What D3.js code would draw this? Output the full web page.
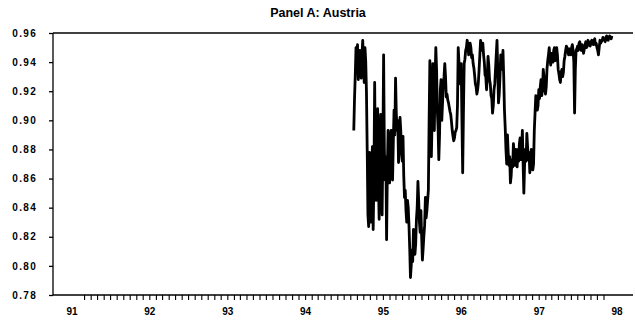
<!DOCTYPE html>
<html>
<head>
<meta charset="utf-8">
<script src="https://cdn.jsdelivr.net/npm/d3@7"></script>
<style>
  html, body { margin: 0; padding: 0; background: #fff; }
  svg { display: block; }
</style>
</head>
<body>
<svg id="chart" width="635" height="320"></svg>
<script>
const title = "Panel A: Austria";
const startDate = new Date(1994, 7, 15);   // first observation
const stepDays = 3.5;                      // twice a week
const values = [
  0.893,0.915, 0.931,0.950, 0.943,0.952, 0.928,0.935, 0.948,0.940,
  0.929,0.945, 0.955,0.940, 0.926,0.950, 0.941,0.920, 0.880,0.835,
  0.827,0.878, 0.874,0.830, 0.869,0.882, 0.825,0.860, 0.926,0.870,
  0.845,0.880, 0.908,0.860, 0.832,0.875, 0.904,0.870, 0.835,0.880,
  0.945,0.880, 0.859,0.875, 0.818,0.865, 0.893,0.885, 0.857,0.868,
  0.893,0.875, 0.859,0.885, 0.907,0.890, 0.929,0.905, 0.893,0.900,
  0.871,0.880, 0.902,0.893, 0.880,0.872, 0.889,0.862, 0.847,0.852,
  0.838,0.830, 0.845,0.840, 0.828,0.812, 0.792,0.800, 0.811,0.803,
  0.825,0.818, 0.808,0.815, 0.832,0.840, 0.858,0.845, 0.830,0.823,
  0.838,0.820, 0.804,0.812, 0.821,0.828, 0.847,0.833, 0.838,0.845,
  0.852,0.900, 0.941,0.915, 0.875,0.900, 0.939,0.925, 0.893,0.930,
  0.950,0.935, 0.907,0.895, 0.873,0.890, 0.921,0.928, 0.900,0.912,
  0.924,0.930, 0.939,0.930, 0.916,0.918, 0.914,0.912, 0.909,0.906,
  0.904,0.899, 0.893,0.889, 0.886,0.888, 0.892,0.893, 0.895,0.910,
  0.950,0.940, 0.928,0.925, 0.939,0.900, 0.864,0.905, 0.939,0.942,
  0.948,0.950, 0.955,0.952, 0.945,0.948, 0.953,0.950, 0.943,0.945,
  0.939,0.936, 0.931,0.925, 0.923,0.918, 0.921,0.926, 0.935,0.945,
  0.955,0.948, 0.950,0.953, 0.945,0.940, 0.931,0.930, 0.921,0.930,
  0.944,0.938, 0.928,0.925, 0.917,0.915, 0.905,0.910, 0.921,0.925,
  0.935,0.945, 0.955,0.935, 0.912,0.918, 0.930,0.945, 0.938,0.935,
  0.948,0.930, 0.907,0.895, 0.880,0.870, 0.890,0.878, 0.869,0.875,
  0.857,0.862, 0.873,0.868, 0.884,0.878, 0.869,0.880, 0.875,0.868,
  0.880,0.872, 0.884,0.888, 0.873,0.878, 0.893,0.870, 0.850,0.870,
  0.880,0.872, 0.891,0.882, 0.873,0.878, 0.864,0.870, 0.880,0.875,
  0.866,0.870, 0.893,0.905, 0.917,0.912, 0.907,0.910, 0.921,0.915,
  0.923,0.928, 0.917,0.922, 0.935,0.930, 0.921,0.918, 0.923,0.935,
  0.941,0.945, 0.950,0.942, 0.938,0.946, 0.944,0.940, 0.948,0.950,
  0.941,0.944, 0.950,0.945, 0.935,0.932, 0.928,0.926, 0.933,0.935,
  0.930,0.933, 0.941,0.944, 0.948,0.951, 0.950,0.947, 0.945,0.949,
  0.946,0.945, 0.950,0.952, 0.948,0.940, 0.905,0.935, 0.948,0.949,
  0.951,0.948, 0.953,0.954, 0.950,0.948, 0.952,0.950, 0.946,0.949,
  0.952,0.954, 0.950,0.951, 0.955,0.953, 0.952,0.951, 0.954,0.955,
  0.953,0.952, 0.955,0.956, 0.952,0.953, 0.950,0.948, 0.945,0.950,
  0.955,0.953, 0.954,0.955, 0.957,0.956, 0.955,0.954, 0.957,0.958,
  0.956,0.955, 0.957,0.958, 0.957,0.956, 0.958
];
const yTicks = [0.78, 0.80, 0.82, 0.84, 0.86, 0.88, 0.90, 0.92, 0.94, 0.96];
const xYears = [1991, 1992, 1993, 1994, 1995, 1996, 1997, 1998];
const xLabels = ["91", "92", "93", "94", "95", "96", "97", "98"];

// ---- layout ----
const svg = d3.select("#chart");
const plotLeft = 53, plotRight = 633, plotTop = 33, plotBottom = 295;

const x = d3.scaleTime()
  .domain([new Date(1991, 0, 1), new Date(1998, 0, 1)])
  .range([72, 617]);
const y = d3.scaleLinear().domain([0.78, 0.96]).range([plotBottom, plotTop]);

const data = values.map((v, i) => ({
  date: new Date(startDate.getTime() + i * stepDays * 864e5),
  value: v
}));

// title
svg.append("text")
  .attr("x", 318).attr("y", 17)
  .attr("text-anchor", "middle")
  .attr("font-family", "Liberation Sans, Arial, sans-serif")
  .attr("font-weight", "bold")
  .attr("font-size", 12.5)
  .text(title);

// frame lines: top, left, bottom
svg.append("line").attr("x1", plotLeft).attr("x2", plotRight).attr("y1", plotTop).attr("y2", plotTop)
  .attr("stroke", "#000").attr("stroke-width", 1.5);
svg.append("line").attr("x1", plotLeft).attr("x2", plotLeft).attr("y1", plotTop).attr("y2", plotBottom)
  .attr("stroke", "#000").attr("stroke-width", 1.3);
svg.append("line").attr("x1", plotLeft).attr("x2", plotRight).attr("y1", plotBottom).attr("y2", plotBottom)
  .attr("stroke", "#000").attr("stroke-width", 1.5);

// y axis
const yAxis = d3.axisLeft(y).tickValues(yTicks).tickFormat(d3.format(".2f")).tickSize(4).tickPadding(12);
const gy = svg.append("g").attr("transform", `translate(${plotLeft},0)`).call(yAxis);
gy.select(".domain").remove();
gy.selectAll(".tick line").attr("stroke", "#000").attr("stroke-width", 1.3);
gy.selectAll(".tick text")
  .attr("font-family", "Liberation Sans, Arial, sans-serif")
  .attr("font-weight", "bold")
  .attr("font-size", 10)
  .attr("letter-spacing", "1.3px")
  .attr("fill", "#000");

// x axis: monthly minor ticks
const months = d3.timeMonth.range(new Date(1991, 2, 1), new Date(1997, 11, 1));
svg.append("g").selectAll("line").data(months).join("line")
  .attr("x1", d => x(d)).attr("x2", d => x(d))
  .attr("y1", plotBottom).attr("y2", plotBottom + 5)
  .attr("stroke", "#000").attr("stroke-width", 1.1);

// x labels
svg.append("g").selectAll("text").data(xYears).join("text")
  .attr("x", d => x(new Date(d, 0, 1)))
  .attr("y", 315)
  .attr("text-anchor", "middle")
  .attr("font-family", "Liberation Sans, Arial, sans-serif")
  .attr("font-weight", "bold")
  .attr("font-size", 10)
  .text((d, i) => xLabels[i]);

// series
const line = d3.line().x(d => x(d.date)).y(d => y(d.value));
svg.append("path").datum(data)
  .attr("d", line)
  .attr("fill", "none")
  .attr("stroke", "#000")
  .attr("stroke-width", 2.8)
  .attr("stroke-linejoin", "round");
</script>
</body>
</html>
